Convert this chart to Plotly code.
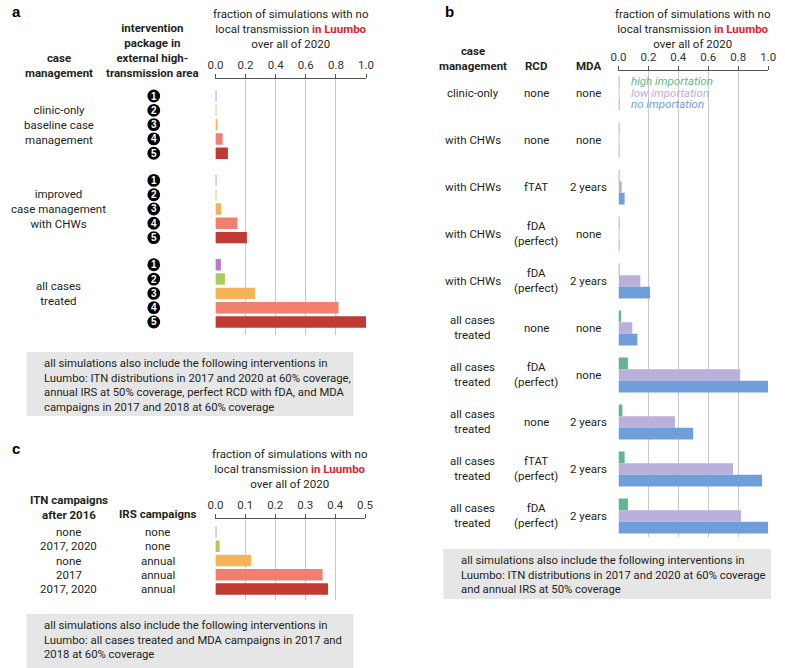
import plotly.graph_objects as go

W, H = 785, 668
def px(x): return x / W
def py(y): return 1 - y / H

FONT = "Roboto"
TXT = "#231f20"
RED = "#e2232a"
GRID = "#c9c9c9"
AXL = "#555555"

# ---------------- data: panel a ----------------
a_groups = ["clinic-only<br>baseline case<br>management",
            "improved<br>case management<br>with CHWs",
            "all cases<br>treated"]
a_packages = ["1", "2", "3", "4", "5"]
a_values = [
    [0.005, 0.003, 0.013, 0.048, 0.083],
    [0.005, 0.003, 0.037, 0.146, 0.209],
    [0.037, 0.063, 0.263, 0.817, 1.0],
]
pkg_colors = ["#b57dc6", "#a6cf5a", "#f6b257", "#f07f70", "#c13b35"]

# ---------------- data: panel b ----------------
b_case = ["clinic-only", "with CHWs", "with CHWs", "with CHWs", "with CHWs",
          "all cases<br>treated", "all cases<br>treated", "all cases<br>treated",
          "all cases<br>treated", "all cases<br>treated"]
b_rcd = ["none", "none", "fTAT", "fDA<br>(perfect)", "fDA<br>(perfect)", "none",
         "fDA<br>(perfect)", "none", "fTAT<br>(perfect)", "fDA<br>(perfect)"]
b_mda = ["none", "none", "2 years", "none", "2 years", "none", "none",
         "2 years", "2 years", "2 years"]
b_series = ["high importation", "low importation", "no importation"]
b_high = [0.003, 0.003, 0.003, 0.003, 0.005, 0.017, 0.063, 0.026, 0.041, 0.063]
b_low = [0.003, 0.003, 0.022, 0.004, 0.146, 0.092, 0.813, 0.377, 0.765, 0.819]
b_none = [0.005, 0.005, 0.041, 0.005, 0.211, 0.126, 1.0, 0.499, 0.959, 1.0]
b_colors = ["#62b68f", "#b9b0db", "#6f9fdb"]

# ---------------- data: panel c ----------------
c_itn = ["none", "2017, 2020", "none", "2017", "2017, 2020"]
c_irs = ["none", "none", "annual", "annual", "annual"]
c_values = [0.002, 0.014, 0.119, 0.358, 0.376]

notes = [
    "all simulations also include the following interventions in<br>"
    "Luumbo: ITN distributions in 2017 and 2020 at 60% coverage,<br>"
    "annual IRS at 50% coverage, perfect RCD with fDA, and MDA<br>"
    "campaigns in 2017 and 2018 at 60% coverage",
    "all simulations also include the following interventions in<br>"
    "Luumbo: ITN distributions in 2017 and 2020 at 60% coverage<br>"
    "and annual IRS at 50% coverage",
    "all simulations also include the following interventions in<br>"
    "Luumbo: all cases treated and MDA campaigns in 2017 and<br>"
    "2018 at 60% coverage",
]
title_txt = ("fraction of simulations with no<br>local transmission "
             f"<span style='color:{RED}'><b>in Luumbo</b></span><br>over all of 2020")

fig = go.Figure()

# panel a bars
GAP_A = 5.9
a_pos, a_x, a_col = [], [], []
for g, vals in enumerate(a_values):
    for i, v in enumerate(vals):
        a_pos.append(g * GAP_A + i)
        a_x.append(v)
        a_col.append(pkg_colors[i])
fig.add_trace(go.Bar(orientation="h", x=a_x, y=a_pos, width=0.8,
                     marker=dict(color=a_col, line_width=0),
                     xaxis="x", yaxis="y", showlegend=False))

# panel b bars
b_idx = list(range(len(b_case)))
for name, vals, col in zip(b_series, [b_high, b_low, b_none], b_colors):
    fig.add_trace(go.Bar(orientation="h", x=vals, y=b_idx, name=name,
                         marker=dict(color=col, line_width=0),
                         xaxis="x2", yaxis="y2", showlegend=False))

# panel c bars
c_idx = list(range(len(c_values)))
fig.add_trace(go.Bar(orientation="h", x=c_values, y=c_idx, width=0.8,
                     marker=dict(color=pkg_colors, line_width=0),
                     xaxis="x3", yaxis="y3", showlegend=False))

def xax(dom, rng, dtick, anchor):
    return dict(domain=dom, range=rng, dtick=dtick, tickformat=".1f", side="top",
                anchor=anchor, showgrid=True, gridcolor=GRID, gridwidth=1.2,
                showline=True, linecolor=AXL, linewidth=1, ticks="outside",
                ticklen=4, tickcolor=AXL, zeroline=False, fixedrange=True,
                tickfont=dict(family=FONT, size=11.5, color="#333"))

def yax(dom, rng, anchor):
    return dict(domain=dom, range=rng, anchor=anchor, visible=False, fixedrange=True)

fig.update_layout(
    width=W, height=H, margin=dict(l=0, r=0, t=0, b=0),
    paper_bgcolor="white", plot_bgcolor="rgba(0,0,0,0)",
    barmode="group", bargap=0.255, bargroupgap=0,
    font=dict(family=FONT, size=11, color=TXT),
    xaxis=xax([px(212), px(366)], [0, 1], 0.2, "y"),
    yaxis=yax([py(335), py(79)], [16.71, -1.19], "x"),
    xaxis2=xax([px(624), px(777)], [0, 1], 0.2, "y2"),
    yaxis2=yax([py(537), py(71)], [9.447, -0.468], "x2"),
    xaxis3=xax([px(212), px(365)], [0, 0.5], 0.1, "y3"),
    yaxis3=yax([py(600), py(519)], [4.77, -0.91], "x3"),
)

ann = []
shapes = []
def A(x, y, text, xref="paper", yref="paper", **kw):
    d = dict(x=x, y=y, xref=xref, yref=yref, text=text, showarrow=False,
             xanchor=kw.pop("xanchor", "center"), yanchor=kw.pop("yanchor", "middle"),
             align=kw.pop("align", "center"))
    d.update(kw)
    ann.append(d)

BOLD = dict(family=FONT, size=11.5, color=TXT)
REG = dict(family=FONT, size=11.5, color=TXT)
LET = dict(family="Liberation Sans", size=15, color="#000")

# panel letters
A(px(2), py(11), "<b>a</b>", xanchor="left", font=LET)
A(px(445), py(11), "<b>b</b>", xanchor="left", font=LET)
A(px(2), py(448), "<b>c</b>", xanchor="left", font=LET)

# titles
A(px(289), py(29), title_txt, font=REG)
A(px(700), py(29), title_txt, font=REG)
A(px(288), py(469), title_txt, font=REG)

# panel a headers
A(px(52), py(65.5), "<b>case<br>management</b>", font=BOLD)
A(px(148), py(51), "<b>intervention<br>package in<br>external high-<br>transmission area</b>", font=BOLD)
for g, lab in enumerate(a_groups):
    A(px(52), g * GAP_A + 2, lab, yref="y", font=REG)
    for i, p in enumerate(a_packages):
        yc = g * GAP_A + i
        shapes.append(dict(type="circle", xref="paper", yref="y",
                           x0=px(142.5), x1=px(155.5), y0=yc - 0.45, y1=yc + 0.45,
                           fillcolor="#000", line_width=0, layer="above"))
        A(px(149), yc, f"<b>{p}</b>", yref="y",
          font=dict(family="Liberation Sans", size=10, color="white"))

# panel b headers and rows
A(px(475), py(59), "<b>case<br>management</b>", font=BOLD)
A(px(540), py(66), "<b>RCD</b>", font=BOLD)
A(px(593), py(66), "<b>MDA</b>", font=BOLD)
for k in b_idx:
    A(px(475), k, b_case[k], yref="y2", font=REG)
    A(px(540), k, b_rcd[k], yref="y2", font=REG)
    A(px(593), k, b_mda[k], yref="y2", font=REG)
for j, (name, col) in enumerate(zip(b_series, b_colors)):
    A(px(635), py(81 + 11.7 * j), f"<i>{name}</i>", xanchor="left",
      font=dict(family=FONT, size=11.5, color=col))

# panel c headers and rows
A(px(62), py(507), "<b>ITN campaigns<br>after 2016</b>", font=BOLD)
A(px(153), py(514), "<b>IRS campaigns</b>", font=BOLD)
for k in c_idx:
    A(px(62), k, c_itn[k], yref="y3", font=REG)
    A(px(153), k, c_irs[k], yref="y3", font=REG)

# note boxes
boxes = [(19, 352, 353, 416, 35, 355), (445, 549, 780, 599, 461, 552), (19, 614, 353, 668, 35, 617)]
for (x0, y0, x1, y1, tx, ty), note in zip(boxes, notes):
    shapes.append(dict(type="rect", xref="paper", yref="paper", x0=px(x0), x1=px(x1),
                       y0=py(y1), y1=py(y0), fillcolor="#e6e6e6", line_width=0, layer="below"))
    A(px(tx), py(ty), note, xanchor="left", yanchor="top", align="left",
      font=dict(family=FONT, size=11.3, color=TXT))

fig.update_layout(annotations=ann, shapes=shapes)
fig.write_html("out.html", config={"displayModeBar": False},
               post_script="document.body.style.margin='0';document.body.style.padding='0';")
